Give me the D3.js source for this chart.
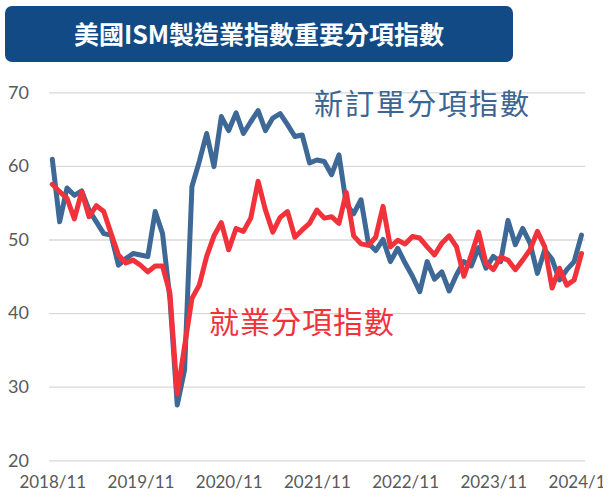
<!DOCTYPE html>
<html>
<head>
<meta charset="utf-8">
<script src="https://cdn.jsdelivr.net/npm/d3@7/dist/d3.min.js"></script>
<style>
html,body{margin:0;padding:0;background:#fff;}
svg{display:block;}
</style>
</head>
<body>
<div id="chart"></div>
<script>
const titleText = "美國ISM製造業指數重要分項指數";
const seriesNames = ["新訂單分項指數", "就業分項指數"];
const xTickIndex = [0, 12, 24, 36, 48, 60, 72];
const xTickLabels = ["2018/11", "2019/11", "2020/11", "2021/11", "2022/11", "2023/11", "2024/11"];
const yTicks = [20, 30, 40, 50, 60, 70];

// Monthly values 2018/11 .. 2024/11
const newOrders = [
  60.9, 52.4, 57.0, 56.0, 56.6, 54.0, 52.4, 50.8, 50.6, 46.5, 47.4, 48.1, 47.9, 47.7,
  53.8, 50.8, 42.0, 27.5, 32.3, 57.2, 60.6, 64.4, 59.9, 66.7, 64.8, 67.2, 64.4, 66.0,
  67.5, 64.8, 66.5, 67.1, 65.6, 64.0, 64.2, 60.4, 60.8, 60.6, 58.8, 61.5, 54.8, 53.5,
  55.4, 49.5, 48.5, 50.0, 47.0, 48.8, 46.8, 45.0, 42.9, 47.0, 44.6, 45.6, 43.0, 45.2,
  47.0, 46.4, 48.9, 46.1, 47.7, 47.0, 52.6, 49.3, 51.5, 49.5, 45.4, 48.6, 47.3, 44.5,
  45.9, 47.0, 50.6
];
const employment = [
  57.5, 56.5, 55.6, 52.8, 56.5, 53.1, 54.6, 53.8, 50.8, 47.9, 46.8, 47.2, 46.5, 45.6,
  46.4, 46.4, 42.7, 29.0, 35.5, 42.0, 43.8, 47.7, 50.5, 52.3, 48.6, 51.5, 51.1, 52.9,
  57.9, 54.0, 51.0, 53.0, 53.8, 50.3, 51.3, 52.2, 54.0, 52.9, 53.1, 52.2, 56.4, 50.5,
  49.4, 49.2, 50.3, 54.5, 49.0, 49.9, 49.4, 50.4, 50.2, 49.0, 47.9, 49.5, 50.5, 49.0,
  45.0, 47.9, 51.0, 46.8, 45.9, 47.6, 47.2, 45.9, 47.2, 48.6, 51.1, 49.0, 43.4, 46.1,
  43.8, 44.5, 48.1
];

const W = 603, H = 499;
const blue = "#3e6896", red = "#f2323b";

const svg = d3.select("#chart").append("svg")
  .attr("width", W).attr("height", H);

// Title banner
svg.append("rect")
  .attr("x", 5).attr("y", 6).attr("width", 508).attr("height", 56)
  .attr("rx", 7).attr("fill", "#114a84");
svg.append("text")
  .attr("x", 259).attr("y", 44)
  .attr("text-anchor", "middle")
  .attr("fill", "#fff")
  .attr("font-family", "'Noto Sans CJK TC', sans-serif")
  .attr("font-weight", 700)
  .attr("font-size", 25)
  .text(titleText);

const x = d3.scaleLinear().domain([0, newOrders.length - 1]).range([52.3, 581.5]);
const y = d3.scaleLinear().domain([20, 70]).range([460.3, 92.3]);

// Y axis + gridlines
const yAxis = svg.append("g")
  .attr("transform", "translate(49,0)")
  .call(d3.axisLeft(y).tickValues(yTicks).tickSize(-536).tickPadding(20).tickFormat(d3.format("d")));
yAxis.select(".domain").remove();
yAxis.selectAll(".tick line").attr("stroke", "#d9d9d9").attr("stroke-width", 1.3);
yAxis.selectAll(".tick text")
  .attr("fill", "#595959")
  .attr("font-family", "Lato, 'Liberation Sans', sans-serif")
  .attr("font-size", 18);

// X axis labels
const xAxis = svg.append("g")
  .attr("transform", "translate(0,466)")
  .call(d3.axisBottom(x).tickValues(xTickIndex).tickSize(0).tickPadding(10)
    .tickFormat((d, i) => xTickLabels[i]));
xAxis.select(".domain").remove();
xAxis.selectAll(".tick text")
  .attr("fill", "#595959")
  .attr("font-family", "Lato, 'Liberation Sans', sans-serif")
  .attr("font-size", 17);

const line = d3.line().x((d, i) => x(i)).y(d => y(d));

svg.append("path").datum(newOrders)
  .attr("d", line).attr("fill", "none")
  .attr("stroke", blue).attr("stroke-width", 5)
  .attr("stroke-linejoin", "round").attr("stroke-linecap", "round");
svg.append("path").datum(employment)
  .attr("d", line).attr("fill", "none")
  .attr("stroke", red).attr("stroke-width", 5)
  .attr("stroke-linejoin", "round").attr("stroke-linecap", "round");

// Series annotations
svg.append("text")
  .attr("x", 314).attr("y", 115)
  .attr("fill", "#3b6592")
  .attr("font-family", "'Noto Sans CJK TC', sans-serif")
  .attr("font-size", 29)
  .attr("letter-spacing", 2)
  .text(seriesNames[0]);
svg.append("text")
  .attr("x", 209).attr("y", 333)
  .attr("fill", red)
  .attr("font-family", "'Noto Sans CJK TC', sans-serif")
  .attr("font-size", 30)
  .attr("letter-spacing", 1)
  .text(seriesNames[1]);
</script>
</body>
</html>
